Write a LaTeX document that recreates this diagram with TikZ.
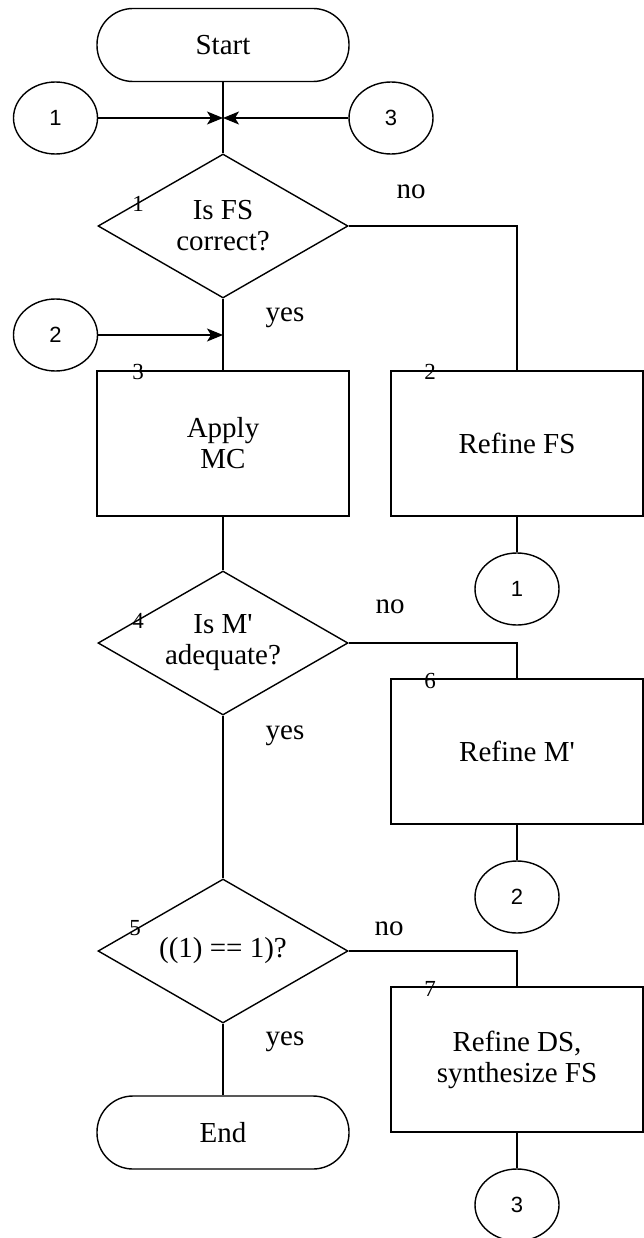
\documentclass[tikz,border=0pt]{standalone}
\usepackage{fontspec}
\setmainfont{Liberation Serif}
\newfontfamily\circfont{Liberation Sans}
\usetikzlibrary{arrows.meta, positioning, calc, shapes.geometric}

\begin{document}
\begin{tikzpicture}[x=1pt, y=-1pt, line width=1.4pt,
  >={Stealth[length=16pt, width=13pt, inset=4pt]},
  term/.style={draw, rectangle, rounded corners=36pt, minimum width=252pt,
    minimum height=73pt, font=\fontsize{29}{31}\selectfont},
  proc/.style={draw, rectangle, minimum width=252pt, minimum height=145pt,
    align=center, font=\fontsize{29}{31}\selectfont},
  decide/.style={draw, diamond, aspect=1.74, inner sep=0pt, minimum width=250pt,
    minimum height=144pt, align=center, font=\fontsize{29}{31}\selectfont},
  conn/.style={draw, ellipse, minimum width=84pt, minimum height=72pt,
    font=\circfont\fontsize{22}{24}\selectfont},
  stepno/.style={inner sep=0pt, font=\fontsize{23}{24}\selectfont},
  answer/.style={inner sep=0pt, font=\fontsize{29}{31}\selectfont}]
  \useasboundingbox (0,0) rectangle (643,1238);

  % left column
  \node[term] (start) at (223,45) {Start};
  \node[decide] (fscheck) at (223,226) {Is FS\\correct?};
  \node[proc] (applymc) at (223,443.5) {Apply\\MC};
  \node[decide] (mcheck) at (223,643) {Is M\textquotesingle\\adequate?};
  \node[decide] (eqcheck) at (223,951) {((1) == 1)?};
  \node[term] (end) at (223,1132.5) {End};

  % right column
  \node[proc] (refinefs) at (517,443.5) {Refine FS};
  \node[proc] (refinem) at (517,751.5) {Refine M\textquotesingle};
  \node[proc] (refineds) at (517,1059.5) {Refine DS,\\synthesize FS};

  % connectors
  \node[conn] (in1) at (55.5,118) {1};
  \node[conn] (in3) at (391,118) {3};
  \node[conn] (in2) at (55.5,335) {2};
  \node[conn] (out1) at (517,589) {1};
  \node[conn] (out2) at (517,897) {2};
  \node[conn] (out3) at (517,1205) {3};
  \coordinate (join1) at (223,118);
  \coordinate (join2) at (223,335);

  % step numbers
  \node[stepno] (n1) at (138,204) {1};
  \node[stepno] (n2) at (430,372) {2};
  \node[stepno] (n3) at (138,372) {3};
  \node[stepno] (n4) at (138,621) {4};
  \node[stepno] (n5) at (135,928) {5};
  \node[stepno] (n6) at (430,681) {6};
  \node[stepno] (n7) at (430,989) {7};

  % answers
  \node[answer] (no1) at (411,192) {no};
  \node[answer] (yes1) at (285,318) {yes};
  \node[answer] (no2) at (390,607) {no};
  \node[answer] (yes2) at (285,736) {yes};
  \node[answer] (no3) at (389,929) {no};
  \node[answer] (yes3) at (285,1042) {yes};

  \draw (start) -- (fscheck);
  \draw[->] (in1) -- (join1);
  \draw[->] (in3) -- (join1);
  \draw (fscheck) -- (applymc);
  \draw[->] (in2) -- (join2);
  \draw (fscheck.east) -| (refinefs.north);
  \draw (refinefs) -- (out1);
  \draw (applymc) -- (mcheck);
  \draw (mcheck.east) -| (refinem.north);
  \draw (refinem) -- (out2);
  \draw (mcheck) -- (eqcheck);
  \draw (eqcheck.east) -| (refineds.north);
  \draw (refineds) -- (out3);
  \draw (eqcheck) -- (end);
\end{tikzpicture}
\end{document}
